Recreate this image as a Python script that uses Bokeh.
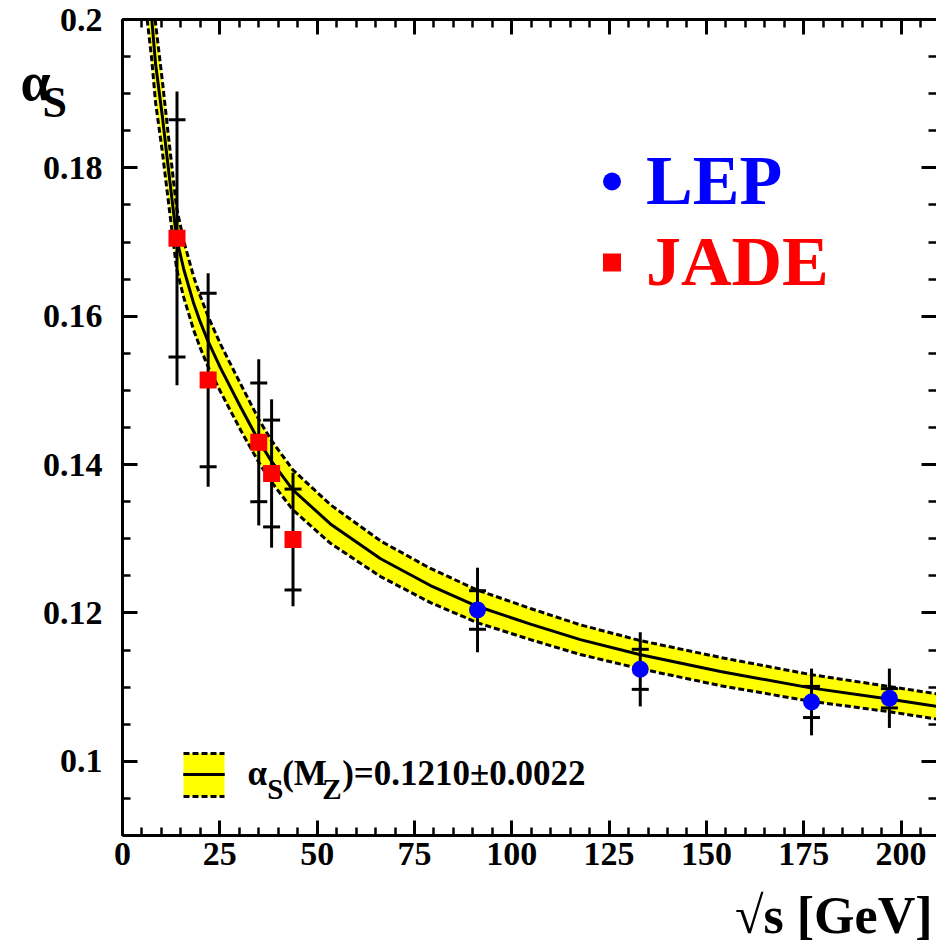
import numpy as np
from bokeh.plotting import figure
from bokeh.models import (Range1d, LinearAxis, SingleIntervalTicker, CustomJSTickFormatter,
                          Label, Legend, LegendItem, Band, ColumnDataSource)
from bokeh.embed import file_html
from bokeh.resources import INLINE

# ---------------- data ----------------
# central running alpha_s curve
curve_x = [7.53, 8.5, 10.2, 11.5, 13.2, 13.9, 15.75, 18.3, 20.0, 21.9, 25.2, 30.3, 35.0, 38.2,
           43.75, 53.4, 66.3, 79.1, 91.1, 104.8, 117.6, 132.8, 153.6, 176.7, 196.8, 209.1]
curve_y = [0.2000, 0.1940, 0.1871, 0.1812, 0.1736, 0.1705, 0.1663, 0.1617, 0.1592, 0.1567,
           0.1530, 0.1478, 0.1432, 0.1405, 0.1366, 0.1320, 0.1273, 0.1237, 0.1209, 0.1185,
           0.1164, 0.1144, 0.1121, 0.1099, 0.1084, 0.1074]
# upper edge of the error band
band_hi_x = [8.38, 10.2, 11.5, 13.2, 13.9, 15.75, 18.3, 20.0, 21.9, 25.2, 30.3, 35.0, 38.2,
             43.75, 53.4, 66.3, 79.1, 91.1, 104.8, 117.6, 132.8, 153.6, 176.7, 196.8, 209.1]
band_hi_y = [0.2000, 0.1919, 0.1857, 0.1778, 0.1746, 0.1701, 0.1653, 0.1627, 0.1601,
             0.1562, 0.1509, 0.1461, 0.1433, 0.1393, 0.1346, 0.1297, 0.1260, 0.1231, 0.1206,
             0.1184, 0.1163, 0.1140, 0.1117, 0.1101, 0.1091]
# lower edge of the error band
band_lo_x = [6.34, 7.45, 8.5, 10.2, 11.5, 13.2, 13.9, 15.75, 18.3, 20.0, 21.9, 25.2, 30.3,
             35.0, 38.2, 43.75, 53.4, 66.3, 79.1, 91.1, 104.8, 117.6, 132.8, 153.6, 176.7,
             196.8, 209.1]
band_lo_y = [0.2000, 0.1949, 0.1888, 0.1823, 0.1767, 0.1694, 0.1664, 0.1625, 0.1581, 0.1557,
             0.1533, 0.1498, 0.1447, 0.1403, 0.1377, 0.1339, 0.1294, 0.1249, 0.1214, 0.1187,
             0.1164, 0.1144, 0.1125, 0.1102, 0.1081, 0.1067, 0.1057]

jade_x = [14.0, 22.0, 35.0, 38.3, 43.8]
jade_y = [0.1705, 0.1514, 0.1430, 0.1388, 0.1299]
jade_stat = [0.0160, 0.0117, 0.0080, 0.0072, 0.0068]
jade_tot = [0.0198, 0.0144, 0.0112, 0.0100, 0.0090]

lep_x = [91.2, 133.0, 177.0, 197.0]
lep_y = [0.1204, 0.1124, 0.1080, 0.1085]
lep_stat = [0.0026, 0.0027, 0.0021, 0.0013]
lep_tot = [0.0057, 0.0050, 0.0045, 0.0040]

series_names = ["LEP", "JADE"]
fit_label = ")=0.1210\u00b10.0022"

X_MIN, X_MAX = 0.0, 209.1
Y_MIN, Y_MAX = 0.09, 0.2

FONT = "Liberation Serif"
W, H = 936, 943
FL, FT, FB = 122, 19, 835           # axes box in canvas pixels (left, top, bottom)
sx = (W - FL) / (X_MAX - X_MIN)
sy = (FB - FT) / (Y_MAX - Y_MIN)


def dx(px):
    return X_MIN + (px - FL) / sx


def dy(py):
    return Y_MAX - (py - FT) / sy


# the frame fills the whole canvas; axes are drawn at fixed data locations
p = figure(width=W, height=H,
           x_range=Range1d(dx(0), dx(W)), y_range=Range1d(dy(H), dy(0)),
           x_axis_type=None, y_axis_type=None, output_backend="svg", toolbar_location=None,
           min_border=0, background_fill_color="white", border_fill_color="white",
           outline_line_color=None)
p.xgrid.visible = False
p.ygrid.visible = False

xticker = SingleIntervalTicker(interval=25, num_minor_ticks=5)
yticker = SingleIntervalTicker(interval=0.02, num_minor_ticks=4)


def style_axis(ax, labels=True):
    ax.axis_line_width = 3
    ax.axis_line_color = "black"
    ax.major_tick_in = 15
    ax.major_tick_out = 0
    ax.minor_tick_in = 8
    ax.minor_tick_out = 0
    ax.major_tick_line_width = 3
    ax.minor_tick_line_width = 2.5
    ax.major_label_text_font = FONT
    ax.major_label_text_font_style = "bold"
    ax.major_label_text_font_size = "34px"
    ax.major_label_text_color = "black"
    if not labels:
        ax.major_label_text_font_size = "0px"
        ax.major_label_standoff = 0
        ax.formatter = CustomJSTickFormatter(code="return ''")


xb = LinearAxis(ticker=xticker, fixed_location=Y_MIN, bounds=(X_MIN, X_MAX))
style_axis(xb)
xb.major_label_standoff = 7
p.add_layout(xb, "below")

xt = LinearAxis(ticker=xticker, fixed_location=Y_MAX, bounds=(X_MIN, X_MAX))
style_axis(xt, labels=False)
p.add_layout(xt, "above")

yl = LinearAxis(ticker=yticker, fixed_location=X_MIN, bounds=(Y_MIN, Y_MAX),
                formatter=CustomJSTickFormatter(code="return Number(tick.toFixed(3)).toString()"))
style_axis(yl)
yl.major_label_standoff = 20
p.add_layout(yl, "left")

yr = LinearAxis(ticker=yticker, fixed_location=X_MAX, bounds=(Y_MIN, Y_MAX))
style_axis(yr, labels=False)
yr.axis_line_color = None
p.add_layout(yr, "right")

# ---------------- band ----------------
p.patch(band_lo_x + band_hi_x[::-1], band_lo_y + band_hi_y[::-1],
        fill_color="#ffff00", fill_alpha=1.0, line_color=None)
p.line(band_hi_x, band_hi_y, line_color="black", line_width=3, line_dash="6 3")
p.line(band_lo_x, band_lo_y, line_color="black", line_width=3, line_dash="6 3")
p.line(curve_x, curve_y, line_color="black", line_width=3)

# ---------------- error bars ----------------
for xs, ys, st, tt in [(jade_x, jade_y, jade_stat, jade_tot), (lep_x, lep_y, lep_stat, lep_tot)]:
    xa = np.array(xs)
    ya = np.array(ys)
    sa = np.array(st)
    ta = np.array(tt)
    p.segment(x0=xa, y0=ya - ta, x1=xa, y1=ya + ta, line_color="black", line_width=3)
    p.scatter(np.concatenate([xa, xa]), np.concatenate([ya + sa, ya - sa]), marker="dash",
              size=17, line_color="black", line_width=3)

r_jade = p.scatter(jade_x, jade_y, marker="square", size=17, fill_color="#ff0000",
                   line_color=None)
r_lep = p.scatter(lep_x, lep_y, marker="circle", size=17, fill_color="#0000ff",
                  line_color=None)


def make_legend(name, rend, color, loc):
    return Legend(items=[LegendItem(label=name, renderers=[rend])], location=loc,
                  orientation="vertical", glyph_width=45, glyph_height=78, label_height=78,
                  label_width=10, label_standoff=12, padding=0, margin=0, spacing=0,
                  label_text_font=FONT, label_text_font_style="bold",
                  label_text_font_size="70px", label_text_color=color,
                  label_text_baseline="middle", background_fill_alpha=0,
                  border_line_alpha=0)


# legend boxes: bottom-left corner, canvas pixels from the bottom-left
p.add_layout(make_legend(series_names[0], r_lep, "#0000ff", (589, H - 221)))
p.add_layout(make_legend(series_names[1], r_jade, "#ff0000", (589, H - 302)))

# ---------------- fit legend key (yellow box, dashed edges, central line) ----------------
key_src = ColumnDataSource(data=dict(base=[dx(183), dx(224)], lower=[dy(796), dy(796)],
                                     upper=[dy(753), dy(753)], mid=[dy(774), dy(774)]))
p.add_layout(Band(source=key_src, base="base", lower="lower", upper="upper",
                  fill_color="#ffff00", fill_alpha=1.0, line_color="black", line_alpha=1.0,
                  line_width=3, line_dash="6 3", level="overlay"))
p.add_layout(Band(source=key_src, base="base", lower="mid", upper="mid",
                  fill_alpha=0.0, line_color="black", line_alpha=1.0, line_width=3,
                  level="overlay"))


def lab(px, baseline_py, text, size, color="black", align="left"):
    # anchor at the middle of the line box; baseline sits ~0.34 em below it
    p.add_layout(Label(x=dx(px), y=dy(baseline_py - 0.3375 * size), text=text,
                       text_font=FONT, text_font_style="bold", text_font_size=f"{size}px",
                       text_color=color, text_align=align, text_baseline="middle"))


lab(247, 785, "\u03b1", 35)
lab(266.7, 798.3, "S", 29)
lab(281.7, 785, "(M", 35)
lab(321.7, 798.3, "Z", 29)
lab(341.7, 785, fit_label, 35)

# axis titles
lab(20, 100, "\u03b1", 54)
lab(42, 116.7, "S", 44)
lab(932, 933, "\u221as [GeV]", 52, align="right")

open("out.html", "w").write(file_html(p, INLINE))
